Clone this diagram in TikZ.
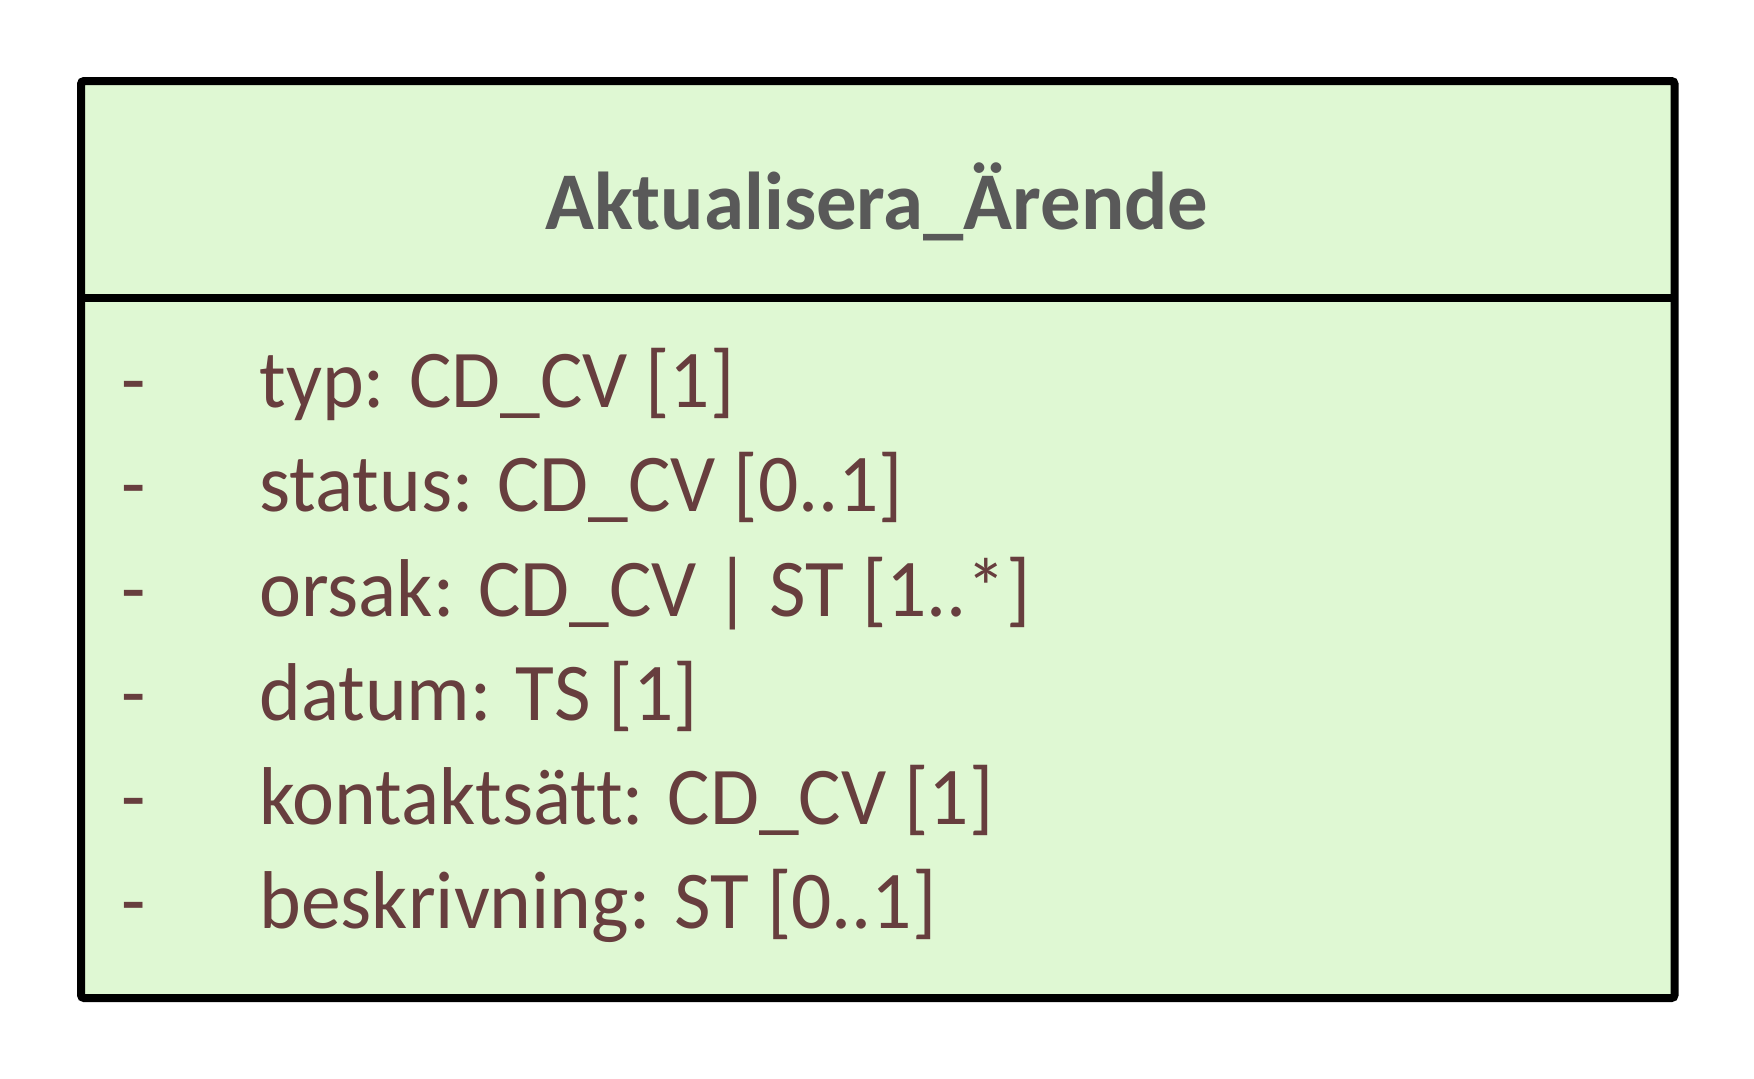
\documentclass[tikz,border=0pt]{standalone}
\usepackage{fontspec}
\setmainfont{Carlito}[Ligatures=NoCommon]
\newfontfamily\attrfont{Carlito}[Ligatures=NoCommon,FakeStretch=0.97]
\newfontfamily\titlefont{Carlito}[Ligatures=NoCommon,FakeStretch=0.985]
\definecolor{boxfill}{HTML}{DFF8D3}
\definecolor{titlecol}{HTML}{595959}
\definecolor{attrcol}{HTML}{673E3E}
\begin{document}
\begin{tikzpicture}[x=0.5pt,y=-0.5pt,
  classframe/.style={draw=black,line width=4pt,fill=boxfill,rounded corners=1.5pt},
  divider/.style={draw=black,line width=4pt},
  titletext/.style={inner sep=0pt,anchor=base,text=titlecol,font=\titlefont\fontsize{41pt}{50pt}\selectfont\bfseries},
  attrtext/.style={inner sep=0pt,anchor=base west,text=attrcol,font=\attrfont\fontsize{41pt}{50pt}\selectfont},
  dashtext/.style={inner sep=0pt,anchor=base west,text=attrcol,font=\attrfont\fontsize{41pt}{50pt}\selectfont}]
\useasboundingbox (0,0) rectangle (1754,1078);
\draw[classframe] (81,81) rectangle (1674.5,998);
\coordinate (dl) at (81,298);
\coordinate (dr) at (1674.5,298);
\draw[divider] (dl) -- (dr);
\node[titletext] (title) at (877,229) {Aktualisera\_Ärende};
\foreach \i/\y/\t in {1/407/{typ: CD\_CV [1]},
                      2/511/{status: CD\_CV [0..1]},
                      3/616/{orsak: CD\_CV | ST [1..*]},
                      4/720/{datum: TS [1]},
                      5/824/{kontaktsätt: CD\_CV [1]},
                      6/928/{beskrivning: ST [0..1]}}{
  \node[dashtext] (d\i) at (121,\y) {-};
  \node[attrtext] (a\i) at (259,\y) {\t};
}
\end{tikzpicture}
\end{document}
